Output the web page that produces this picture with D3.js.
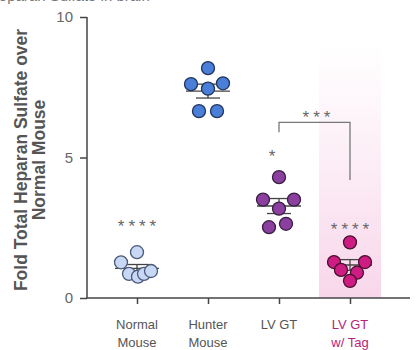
<!DOCTYPE html>
<html><head><meta charset="utf-8">
<script src="https://cdn.jsdelivr.net/npm/d3@7"></script>
<style>body{margin:0;background:#fff}svg{display:block}</style>
</head><body>
<svg id="c" width="416" height="350"></svg>
<script>
const categories = ["Normal Mouse", "Hunter Mouse", "LV GT", "LV GT w/ Tag"];
const labelLines = [["Normal","Mouse"],["Hunter","Mouse"],["LV GT"],["LV GT","w/ Tag"]];
const normalVals = [1.63, 1.27, 0.86, 0.76, 0.86, 0.96];
const hunterVals = [8.18, 7.61, 7.45, 7.64, 6.65, 6.65];
const lvgtVals = [4.30, 3.50, 3.18, 3.50, 2.52, 2.64];
const tagVals = [1.98, 1.28, 1.00, 1.28, 0.90, 0.61];
const jitter = [[0,-16,-8,1,7,14],[0,-17,0,15,-9,9],[0,-16,0,15,-10,7],[0,-16,-9,15,7,0]];
const sigLabels = ["****", "", "*", "****"];
const sigY = [2.7, null, 5.2, 2.6];
const yTicks = [0, 5, 10];
const fills = ["#c8d8f4", "#4a7fd9", "#8b3f9e", "#cf1c82"];
const strokes = ["#4b5a7a", "#23345a", "#3a1f45", "#4a1030"];
const series = [normalVals, hunterVals, lvgtVals, tagVals];
const FONT = "Liberation Sans, Arial, sans-serif";

const svg = d3.select("#c");
const y = d3.scaleLinear().domain([0, 10]).range([298, 17]);
const x = d3.scalePoint().domain(categories).range([137, 350]);

// clipped title at top
svg.append("text").attr("x", -12).attr("y", 1).attr("fill", "#777")
  .attr("font-family", FONT).attr("font-size", 15)
  .text("Heparan Sulfate in brain");

// pink gradient band
const defs = svg.append("defs");
const g = defs.append("linearGradient").attr("id", "pk").attr("x1", 0).attr("x2", 0).attr("y1", 0).attr("y2", 1);
g.append("stop").attr("offset", "0%").attr("stop-color", "#f9dbec").attr("stop-opacity", 0);
g.append("stop").attr("offset", "100%").attr("stop-color", "#f8d6ea").attr("stop-opacity", 1);
const bw = 62;
svg.append("rect").attr("x", x(categories[3]) - bw/2).attr("y", y(9)).attr("width", bw)
  .attr("height", y(0) - y(9)).attr("fill", "url(#pk)");

// axes
const yAxis = d3.axisLeft(y).tickValues(yTicks).tickSize(7).tickPadding(7);
const ya = svg.append("g").attr("transform", "translate(87,0)").call(yAxis);
ya.select(".domain").attr("stroke", "#444").attr("stroke-width", 1.5).attr("d", `M0,${y(10)}V${y(0)}`);
ya.selectAll(".tick line").attr("stroke", "#444").attr("stroke-width", 1.5);
ya.selectAll(".tick text").attr("fill", "#666").attr("font-size", 15)
  .attr("font-family", FONT);

const xAxis = d3.axisBottom(x).tickSize(6).tickFormat("");
const xa = svg.append("g").attr("transform", `translate(0,${y(0)})`).call(xAxis);
xa.select(".domain").attr("stroke", "#444").attr("stroke-width", 1.5).attr("d", `M86,0H410`);
xa.selectAll(".tick line").attr("stroke", "#444").attr("stroke-width", 1.5);

// x labels
categories.forEach((c, i) => {
  const t = svg.append("text").attr("x", x(c)).attr("y", 329).attr("text-anchor", "middle")
    .attr("fill", i === 3 ? "#b5237d" : "#555").attr("font-size", 13)
    .attr("font-family", FONT);
  labelLines[i].forEach((l, k) => t.append("tspan").attr("x", x(c)).attr("dy", k === 0 ? 0 : 18).text(l));
});

// y label
const yl = svg.append("text").attr("transform", "translate(27,160) rotate(-90)").attr("text-anchor", "middle")
  .attr("fill", "#555").attr("font-size", 17.5).attr("font-weight", "bold")
  .attr("font-family", FONT);
yl.append("tspan").attr("x", 0).attr("dy", 0).text("Fold Total Heparan Sulfate over");
yl.append("tspan").attr("x", 0).attr("dy", 18).text("Normal Mouse");

// mean and SEM lines, points
series.forEach((vals, i) => {
  const cx = x(categories[i]);
  const m = d3.mean(vals);
  const sem = d3.deviation(vals) / Math.sqrt(vals.length);
  const lg = svg.append("g").attr("stroke", "#444").attr("stroke-width", 1.3);
  lg.append("line").attr("x1", cx - 22).attr("x2", cx + 22).attr("y1", y(m)).attr("y2", y(m));
  lg.append("line").attr("x1", cx).attr("x2", cx).attr("y1", y(m - sem)).attr("y2", y(m + sem));
  [m - sem, m + sem].forEach(v => lg.append("line").attr("x1", cx - 12).attr("x2", cx + 12).attr("y1", y(v)).attr("y2", y(v)));
  svg.append("g").selectAll("circle").data(vals).join("circle")
    .attr("cx", (d, k) => cx + jitter[i][k]).attr("cy", d => y(d)).attr("r", 6.5)
    .attr("fill", fills[i]).attr("stroke", strokes[i]).attr("stroke-width", 1.3);
  if (sigLabels[i]) {
    svg.append("text").attr("x", cx + (i === 2 ? -5 : 2)).attr("y", y(sigY[i]) + 10).attr("text-anchor", "middle")
      .attr("fill", "#666").attr("font-size", 17).attr("letter-spacing", 4)
      .attr("font-family", FONT).text(sigLabels[i]);
  }
});

// bracket
const bx1 = x(categories[2]), bx2 = x(categories[3]);
svg.append("path").attr("fill", "none").attr("stroke", "#777").attr("stroke-width", 1.3)
  .attr("d", `M${bx1},${y(5.9)}V${y(6.25)}H${bx2}V${y(4.2)}`);
svg.append("text").attr("x", (bx1 + bx2) / 2 + 4).attr("y", y(6.6) + 10).attr("text-anchor", "middle")
  .attr("fill", "#666").attr("font-size", 17).attr("letter-spacing", 4)
  .attr("font-family", FONT).text("***");
</script>
</body></html>
